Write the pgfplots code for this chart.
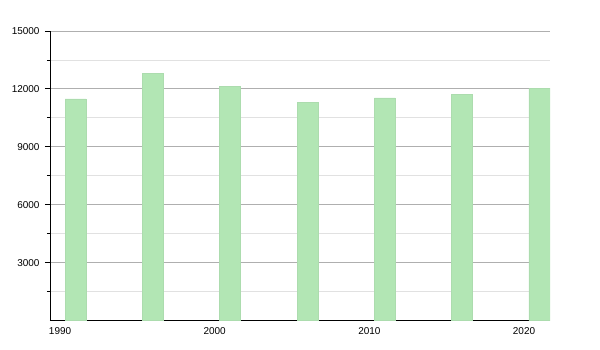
\documentclass[border=0pt]{standalone}
\usepackage{fontspec}
\setmainfont{Liberation Sans}
\usepackage{pgfplots}
\pgfplotsset{compat=1.18}
\definecolor{barfill}{RGB}{178,230,180}
\definecolor{baredge}{RGB}{172,220,174}
\definecolor{majgrid}{RGB}{175,175,175}
\definecolor{mingrid}{RGB}{225,225,225}
\begin{document}
\begin{tikzpicture}
\path[use as bounding box] (-50bp,-29.5bp) rectangle (550bp,320.5bp);
\begin{axis}[
  at={(0,0)}, anchor=south west,
  scale only axis, width=500bp, height=289.5bp,
  xmin=1989.35, xmax=2021.68,
  ymin=0, ymax=15000,
  scaled y ticks=false, scaled x ticks=false,
  axis x line*=bottom, axis y line*=left,
  axis line style={black, line width=0.9pt},
  xtick={1990,2000,2010,2020},
  xticklabels={1990,2000,2010,2020},
  major x tick style={draw=none},
  ytick={3000,6000,9000,12000,15000},
  yticklabels={3000,6000,9000,12000,15000},
  minor ytick={1500,4500,7500,10500,13500},
  y tick style={black, line width=0.8pt},
  major tick length=5bp, minor tick length=3bp,
  tick align=outside,
  ymajorgrids, yminorgrids,
  major grid style={majgrid, line width=0.8pt},
  minor grid style={mingrid, line width=0.8pt},
  tick label style={font=\fontsize{10}{12}\selectfont, text=black},
  yticklabel style={xshift=-2bp},
  xticklabel style={yshift=1bp},
  /pgf/number format/assume math mode=true,
  ybar, bar width=21bp,
  clip=true,
]
\addplot[fill=barfill, draw=baredge, line width=0.4pt] coordinates {
(1991,11480) (1996,12820) (2001,12150) (2006,11320) (2011,11530) (2016,11700) (2021,12030)
};
\end{axis}
\end{tikzpicture}
\end{document}
